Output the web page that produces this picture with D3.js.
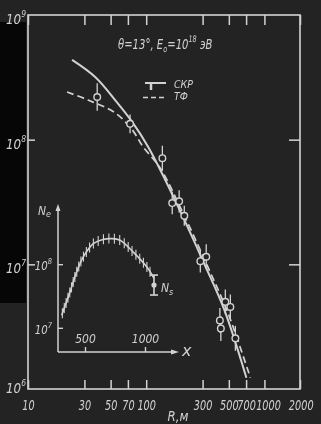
<!DOCTYPE html>
<html><head><meta charset="utf-8">
<script src="https://cdn.jsdelivr.net/npm/d3@7"></script>
<style>
html,body{margin:0;padding:0;background:#232323;overflow:hidden;}
svg{display:block;}
text{font-family:"DejaVu Sans","Liberation Sans",sans-serif;font-style:italic;fill:#d0d0d0;}
</style></head><body>
<svg id="c" width="321" height="424"></svg>
<script>
// ---- main chart data ----
const rTicks=[10,30,50,70,100,300,500,700,1000,2000];
const nTicks=[1e6,1e7,1e8,1e9];
const nInnerTicks=[1e7,1e8];
const solidR=[23.6,37.0,54.6,76.1,104,145,214,310,458,704];
const solidN=[4.36e8,3.18e8,2.08e8,1.39e8,8.74e7,4.75e7,2.19e7,1.01e7,4.31e6,1.23e6];
const dashR=[21.4,32.2,54.6,76.1,94.3,131,214,335,495,761];
const dashN=[2.41e8,2.08e8,1.64e8,1.20e8,8.74e7,5.93e7,2.36e7,9.36e6,4.0e6,1.23e6];
const pointR=[38.5,73,137,166,190,210,287,322,467,515,420,428,568];
const pointN=[2.2e8,1.34e8,7.1e7,3.1e7,3.2e7,2.45e7,1.06e7,1.15e7,5.0e6,4.55e6,3.55e6,3.06e6,2.55e6];
const pointErr=[0.11,0.075,0.1,0.09,0.09,0.08,0.09,0.1,0.1,0.1,0.1,0.1,0.1];
const legendLabels=["СКР","ТФ"];
// ---- inset data ----
const depth=[306,375,431,486,569,650,720,792,900,1014,1075];
const neVals=[1.58e7,3.67e7,7.6e7,1.3e8,2.1e8,2.45e8,2.52e8,2.38e8,1.56e8,9.1e7,6.0e7];
const nsDepth=[1075];
const nsVal=[4.7e7];
const nsErr=[0.157];
const depthTicks=[500,1000];
const neTicks=[1e7,1e8];

(function(){
const fg="#d2d2d2";
const bg="#232323";
const svg=d3.select("#c");
const defs=svg.append("defs");
defs.append("filter").attr("id","bl").append("feGaussianBlur").attr("stdDeviation",0.45);

svg.append("rect").attr("width",321).attr("height",424).attr("fill",bg);
svg.append("rect").attr("x",0).attr("y",22).attr("width",26).attr("height",281).attr("fill","#060606");

const g=svg.append("g").attr("filter","url(#bl)");

function ctext(parent,x,y,size,k,anchor){
  return parent.append("text").attr("transform",`translate(${x},${y}) scale(${k},1)`)
    .attr("text-anchor",anchor||"start").style("font-size",size+"px");
}

const x=d3.scaleLog().domain([10,2000]).range([28,300]);
const y=d3.scaleLog().domain([1e6,1e9]).range([389,15]);

g.append("rect").attr("x",x.range()[0]).attr("y",y.range()[1])
 .attr("width",x.range()[1]-x.range()[0]).attr("height",y.range()[0]-y.range()[1])
 .attr("fill","none").attr("stroke",fg).attr("stroke-width",1.6);

function styleAxis(sel){
  sel.select(".domain").remove();
  sel.selectAll("line").attr("stroke",fg).attr("stroke-width",1.5);
  sel.selectAll("text").attr("fill",fg).style("font-size","13.5px").attr("font-family",null);
}
const axB=g.append("g").attr("transform",`translate(0,${y.range()[0]})`)
 .call(d3.axisBottom(x).tickValues(rTicks).tickFormat(d=>d).tickSizeInner(-9).tickSizeOuter(0).tickPadding(11));
styleAxis(axB);
axB.selectAll("text").attr("transform","scale(0.72,1)").attr("dx",d=>d===1000?5:(d===2000?1:0));
const axT=g.append("g").attr("transform",`translate(0,${y.range()[1]})`)
 .call(d3.axisTop(x).tickValues(rTicks).tickFormat("").tickSizeInner(-10).tickSizeOuter(0));
styleAxis(axT);
const axL=g.append("g").attr("transform",`translate(${x.range()[0]},0)`)
 .call(d3.axisLeft(y).tickValues(nInnerTicks).tickFormat("").tickSizeInner(-7).tickSizeOuter(0));
styleAxis(axL);
const axR=g.append("g").attr("transform",`translate(${x.range()[1]},0)`)
 .call(d3.axisRight(y).tickValues(nInnerTicks).tickFormat("").tickSizeInner(-11).tickSizeOuter(0));
styleAxis(axR);

nTicks.forEach(v=>{
  const t=ctext(g,26,Math.min(y(v)+9,393),14,0.85,"end").attr("fill","#a8a8a8");
  t.append("tspan").text("10");
  t.append("tspan").attr("dy",-7).style("font-size","9px").text(Math.round(Math.log10(v)));
});

ctext(g,178,421,14,0.85,"middle").text("R,м");

const tt=ctext(g,118,49,14,0.72,"start");
tt.append("tspan").text("θ=13°,  E");
tt.append("tspan").attr("dy",3).style("font-size","9px").text("o");
tt.append("tspan").attr("dy",-3).text("=10");
tt.append("tspan").attr("dy",-7).style("font-size","9px").text("18");
tt.append("tspan").attr("dy",7).text(" эВ");

const lg=g.append("g");
lg.append("line").attr("x1",145).attr("x2",166).attr("y1",83).attr("y2",83).attr("stroke",fg).attr("stroke-width",2);
lg.append("line").attr("x1",151).attr("x2",151).attr("y1",83).attr("y2",90).attr("stroke",fg).attr("stroke-width",2.5);
lg.append("line").attr("x1",143).attr("x2",167).attr("y1",97.5).attr("y2",97.5).attr("stroke",fg).attr("stroke-width",1.6).attr("stroke-dasharray","5,3");
legendLabels.forEach((d,i)=>{ ctext(lg,174,88+i*12,10.5,0.9,"start").text(d); });

const line=d3.line().x(d=>x(d[0])).y(d=>y(d[1])).curve(d3.curveCatmullRom.alpha(0.5));
g.append("path").datum(solidR.map((r,i)=>[r,solidN[i]])).attr("d",line)
 .attr("fill","none").attr("stroke",fg).attr("stroke-width",2);
g.append("path").datum(dashR.map((r,i)=>[r,dashN[i]])).attr("d",line)
 .attr("fill","none").attr("stroke",fg).attr("stroke-width",1.7).attr("stroke-dasharray","7,4");

const pts=pointR.map((r,i)=>({r,n:pointN[i],e:pointErr[i]}));
const pg=g.append("g");
pg.selectAll("line").data(pts).join("line")
 .attr("x1",d=>x(d.r)).attr("x2",d=>x(d.r))
 .attr("y1",d=>y(d.n*Math.pow(10,d.e))).attr("y2",d=>y(d.n/Math.pow(10,d.e)))
 .attr("stroke",fg).attr("stroke-width",1.3);
pg.selectAll("circle").data(pts).join("circle")
 .attr("cx",d=>x(d.r)).attr("cy",d=>y(d.n)).attr("r",3.3)
 .attr("fill",bg).attr("stroke",fg).attr("stroke-width",1.4);

// ---- inset ----
const ix=d3.scaleLinear().domain([275,1275]).range([58,178]);
const iy=d3.scaleLog().domain([Math.pow(10,6.62),Math.pow(10,8.93)]).range([352,205]);
const ig=g.append("g");
ig.append("line").attr("x1",ix.range()[0]).attr("x2",ix.range()[0]).attr("y1",iy.range()[0]).attr("y2",iy.range()[1]+3)
 .attr("stroke",fg).attr("stroke-width",1.5);
ig.append("line").attr("x1",ix.range()[0]).attr("x2",ix.range()[1]-3).attr("y1",iy.range()[0]).attr("y2",iy.range()[0])
 .attr("stroke",fg).attr("stroke-width",1.5);
ig.append("path").attr("d",`M${ix.range()[0]-2.5},${iy.range()[1]+6}L${ix.range()[0]},${iy.range()[1]-1}L${ix.range()[0]+2.5},${iy.range()[1]+6}Z`).attr("fill",fg);
ig.append("path").attr("d",`M${ix.range()[1]-7},${iy.range()[0]-2.5}L${ix.range()[1]+1},${iy.range()[0]}L${ix.range()[1]-7},${iy.range()[0]+2.5}Z`).attr("fill",fg);
const ib=ig.append("g").attr("transform",`translate(0,${iy.range()[0]})`)
 .call(d3.axisBottom(ix).tickValues(depthTicks).tickFormat(d=>d).tickSizeInner(-5).tickSizeOuter(0).tickPadding(0));
ib.select(".domain").remove();
ib.selectAll("line").attr("stroke",fg).attr("stroke-width",1.4);
ib.selectAll("text").attr("fill",fg).style("font-size","12px").attr("font-family",null).attr("y",-9).attr("dy",0).attr("transform","scale(0.9,1)");
const il=ig.append("g").attr("transform",`translate(${ix.range()[0]},0)`)
 .call(d3.axisLeft(iy).tickValues(neTicks).tickFormat("").tickSizeInner(-5).tickSizeOuter(0));
il.select(".domain").remove();
il.selectAll("line").attr("stroke",fg).attr("stroke-width",1.4);
neTicks.forEach(v=>{
  const t=ctext(ig,52,iy(v)+6,12,0.85,"end").attr("fill","#b8b8b8");
  t.append("tspan").text("10");
  t.append("tspan").attr("dy",-6).style("font-size","8px").text(Math.round(Math.log10(v)));
});
const ne=ctext(ig,38,215,12,0.9,"start").attr("fill","#b8b8b8");
ne.append("tspan").text("N");
ne.append("tspan").attr("dy",2).style("font-size","9px").text("e");
ig.append("text").attr("x",182).attr("y",356).style("font-size","16px").attr("font-family","DejaVu Serif").text("x");

const iline=d3.line().x(d=>ix(d[0])).y(d=>iy(d[1])).curve(d3.curveCatmullRom.alpha(0.5));
const cp=ig.append("path").datum(depth.map((d,i)=>[d,neVals[i]])).attr("d",iline)
 .attr("fill","none").attr("stroke",fg).attr("stroke-width",1.6);
const node=cp.node(), L=node.getTotalLength();
const hatch=d3.range(2,L-3,5.5).map(l=>node.getPointAtLength(l));
ig.selectAll("line.h").data(hatch).join("line").attr("class","h")
 .attr("x1",d=>d.x).attr("x2",d=>d.x).attr("y1",d=>d.y-5).attr("y2",d=>d.y+5)
 .attr("stroke",fg).attr("stroke-width",1.1);
const ns=nsDepth.map((d,i)=>({d,v:nsVal[i],e:nsErr[i]}));
ns.forEach(p=>{
  const cx=ix(p.d), y1=iy(p.v*Math.pow(10,p.e)), y2=iy(p.v/Math.pow(10,p.e));
  ig.append("line").attr("x1",cx).attr("x2",cx).attr("y1",y1).attr("y2",y2).attr("stroke",fg).attr("stroke-width",1.6);
  ig.append("line").attr("x1",cx-4).attr("x2",cx+4).attr("y1",y1).attr("y2",y1).attr("stroke",fg).attr("stroke-width",1.6);
  ig.append("line").attr("x1",cx-4).attr("x2",cx+4).attr("y1",y2).attr("y2",y2).attr("stroke",fg).attr("stroke-width",1.6);
  ig.append("circle").attr("cx",cx).attr("cy",iy(p.v)).attr("r",2.6).attr("fill",fg);
  const t=ctext(ig,cx+7,iy(p.v)+7,12,0.9,"start");
  t.append("tspan").text("N");
  t.append("tspan").attr("dy",3).style("font-size","9px").text("s");
});
})();
</script>
</body></html>
